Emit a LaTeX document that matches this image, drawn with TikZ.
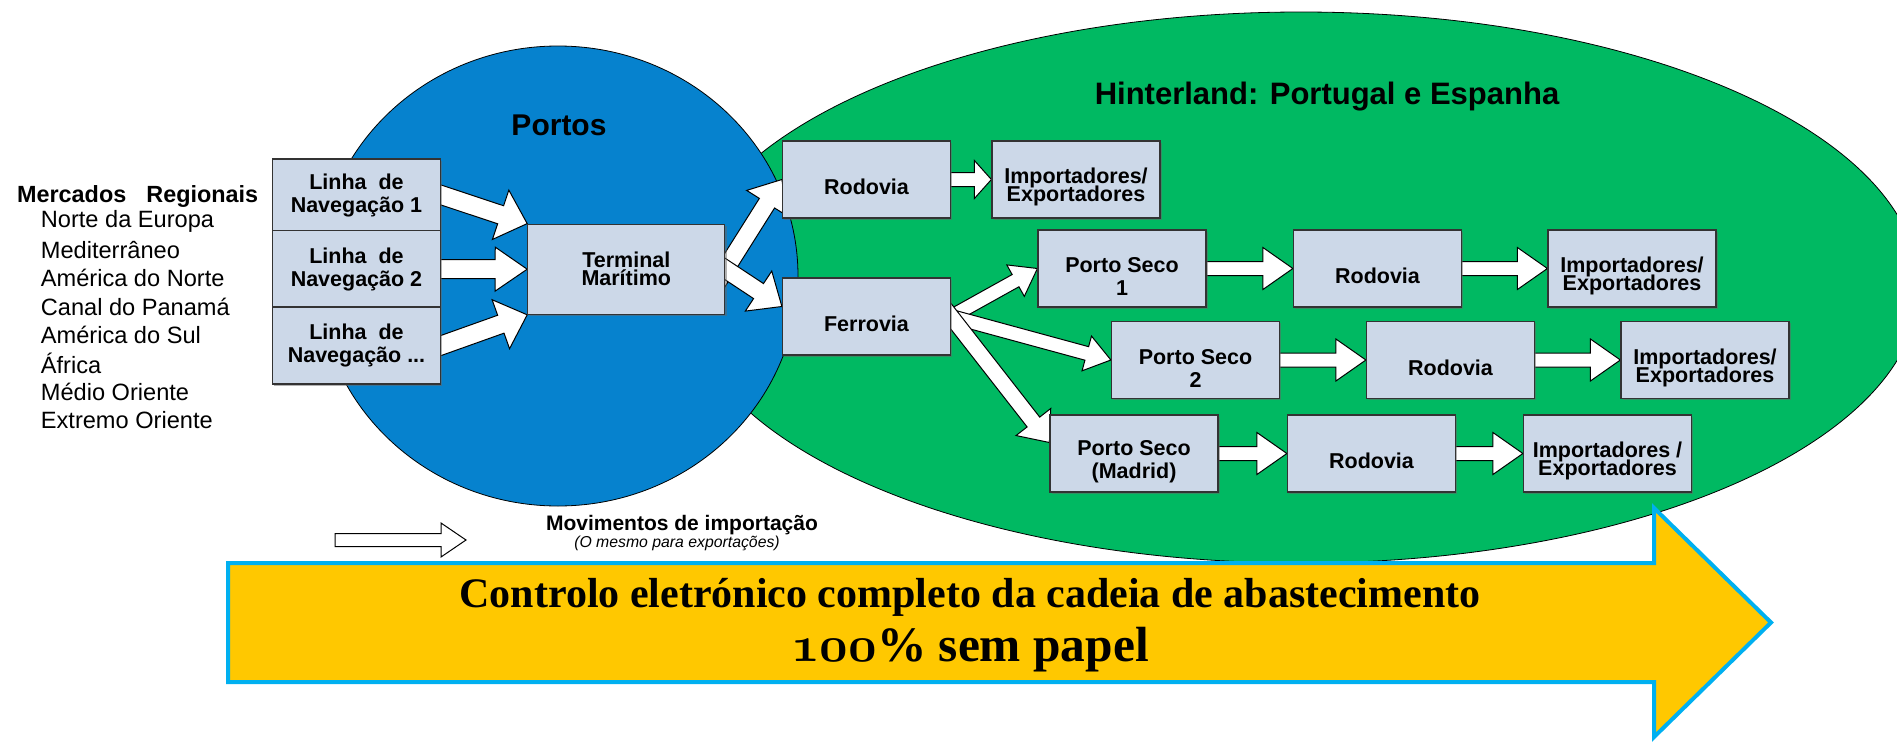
\documentclass[tikz,border=0pt]{standalone}
\usepackage{fontspec}
\setmainfont{Liberation Sans}
\newfontfamily\bannerfont{Liberation Serif}
\usetikzlibrary{calc,shadows}
\definecolor{portblue}{RGB}{6,130,206}
\definecolor{landgreen}{RGB}{0,185,98}
\definecolor{boxfill}{RGB}{204,216,232}
\definecolor{banneryellow}{RGB}{255,200,0}
\definecolor{bannerline}{RGB}{0,176,240}
\pgfdeclarelayer{bg}
\pgfdeclarelayer{mid}
\pgfsetlayers{bg,mid,main}
\newcommand{\sink}{\rule{0pt}{15.5pt}}
\newcommand{\tightfont}{\bfseries\fontsize{10.75}{9}\selectfont\lineskiplimit-6pt\relax}
\tikzset{
  fa shaft/.store in=\fashaft, fa head/.store in=\fahead,
  fa len/.store in=\falen, fa back/.store in=\faback,
  fa shaft=3.5pt, fa head=10.5pt, fa len=15pt, fa back=12pt,
  fatline/.style={draw=black, fill=white, line width=0.5pt, line join=miter},
  flowbox/.style={draw=black!80, fill=boxfill, line width=0.6pt,
    minimum width=84pt, minimum height=38.5pt, inner sep=1pt, align=center,
    font=\bfseries\fontsize{10.75}{11.5}\selectfont,
    drop shadow={shadow xshift=0.9pt, shadow yshift=-0.9pt, fill=black!60}},
  tight/.style={font=\tightfont},
  title/.style={font=\bfseries\fontsize{15}{18}\selectfont},
  market/.style={anchor=west, inner sep=0pt, font=\fontsize{11.8}{14}\selectfont},
  markhead/.style={anchor=west, inner sep=0pt, font=\bfseries\fontsize{11.7}{14}\selectfont}
}
\newcommand{\fatarrow}[3][]{%
  \begin{scope}[#1]
    \coordinate (fa-s) at ($(#2)!-\faback!(#3)$);
    \coordinate (fa-h) at ($(#3)!\falen!(#2)$);
    \draw[fatline] ($(fa-s)!\fashaft!90:(#3)$) -- ($(fa-h)!\fashaft!90:(#3)$)
      -- ($(fa-h)!\fahead!90:(#3)$) -- (#3)
      -- ($(fa-h)!\fahead!-90:(#3)$) -- ($(fa-h)!\fashaft!-90:(#3)$)
      -- ($(fa-s)!\fashaft!-90:(#3)$) -- cycle;
  \end{scope}}
\begin{document}
\begin{tikzpicture}[x=0.5pt, y=-0.5pt, line width=0.5pt]
  \useasboundingbox (0,0) rectangle (1897,744);
  \clip (0,0) rectangle (1897,744);
  \begin{pgfonlayer}{bg}
    \fill[white] (0,0) rectangle (1897,744);
    \draw[fill=landgreen] (1301,287.5) ellipse [x radius=618, y radius=275.5];
    \draw[fill=portblue] (558,276) ellipse [x radius=240, y radius=230];
    \draw[fill=banneryellow, draw=bannerline, line width=2pt]
      (228,563) -- (1654,563) -- (1654,508) -- (1771,622.5) -- (1654,737)
      -- (1654,682) -- (228,682) -- cycle;
  \end{pgfonlayer}

  \node[title] (portos) at (559,125) {Portos};
  \node[title, font=\bfseries\fontsize{15.5}{18}\selectfont] (hinter) at (1327,97)
    {Hinterland: Portugal e Espanha};

  \node[markhead] (merc) at (16.7,194.3) {Mercados};
  \node[markhead] (reg) at (146,196.7) {Regionais};
  \foreach \mk [count=\i] in {Norte da Europa, Mediterrâneo, América do Norte,
      Canal do Panamá, América do Sul, África, Médio Oriente, Extremo Oriente}
    \node[market] (mk\i) at (40.5,{221.5+28.4*(\i-1)}) {\mk};

  \node[flowbox, minimum height=36pt] (lin1) at (356.5,195) {Linha\ \ de\\Navegação 1};
  \node[flowbox] (lin2) at (356.5,269) {Linha\ \ de\\Navegação 2};
  \node[flowbox] (lin3) at (356.5,345.5) {Linha\ \ de\\Navegação ...};
  \node[flowbox, tight, minimum width=98.5pt, minimum height=45pt] (term) at (626.3,269.2)
    {Terminal\\Marítimo};

  \node[flowbox] (rod0) at (866.5,179.5) {\sink Rodovia};
  \node[flowbox, tight] (imp0) at (1076,179.5) {\sink Importadores/\\Exportadores};
  \node[flowbox] (ferr) at (866.5,316.5) {\sink Ferrovia};
  \node[flowbox] (ps1) at (1122,268.5) {\sink Porto Seco\\1};
  \node[flowbox] (rod1) at (1377.5,268.5) {\sink Rodovia};
  \node[flowbox, tight] (imp1) at (1632,268.5) {\sink Importadores/\\Exportadores};
  \node[flowbox] (ps2) at (1195.5,360) {\sink Porto Seco\\2};
  \node[flowbox] (rod2) at (1450.5,360) {\sink Rodovia};
  \node[flowbox, tight] (imp2) at (1705,360) {\sink Importadores/\\Exportadores};
  \node[flowbox] (psm) at (1134,453.5) {\sink Porto Seco\\(Madrid)};
  \node[flowbox] (rod3) at (1371.5,453.5) {\sink Rodovia};
  \node[flowbox, tight] (imp3) at (1607.5,453.5) {\sink Importadores /\\Exportadores};

  \coordinate (ferr-in) at ($(ferr.west)+(0,-10)$);
  \coordinate (psm-in) at ($(psm.west)+(0,-11)$);
  \coordinate (legA) at (335,540);
  \coordinate (legB) at (466,540);
  \begin{pgfonlayer}{mid}
    \fatarrow[fa shaft=4.75pt, fa head=13pt, fa len=14pt]{lin1.east}{term.north west}
    \fatarrow[fa shaft=4.75pt, fa head=11pt, fa len=16pt]{lin2.east}{term.west}
    \fatarrow[fa shaft=4.75pt, fa head=13pt, fa len=14pt]{lin3.east}{term.south west}
    \fatarrow[fa shaft=4.5pt, fa head=12pt, fa len=14pt]{term.east}{rod0.west}
    \fatarrow[fa shaft=4.5pt, fa head=12pt, fa len=14pt]{term.east}{ferr-in}
    \fatarrow[fa head=9.5pt, fa len=8.5pt]{rod0.east}{imp0.west}
    \fatarrow[fa head=9pt, fa len=12.5pt]{ferr.east}{ps1.west}
    \fatarrow[fa head=9pt, fa len=12.5pt]{ferr.east}{ps2.west}
    \fatarrow[fa shaft=4pt, fa head=11pt, fa len=13pt]{ferr.east}{psm-in}
    \foreach \a/\b in {ps1/rod1, rod1/imp1, ps2/rod2, rod2/imp2, psm/rod3, rod3/imp3}
      {\fatarrow{\a.east}{\b.west}}
    \fatarrow[fa back=0pt, fa shaft=3.25pt, fa head=8.5pt, fa len=12.5pt]{legA}{legB}
  \end{pgfonlayer}

  \node[font=\bfseries\fontsize{10.5}{12}\selectfont] (mov) at (682,525)
    {Movimentos de importação};
  \node[font=\itshape\fontsize{7.9}{9}\selectfont] (movx) at (677,543)
    {(O mesmo para exportações)};

  \node[font=\bannerfont\bfseries\fontsize{21}{24}\selectfont] (ctrl) at (970,597)
    {Controlo eletrónico completo da cadeia de abastecimento};
  \node[font=\bannerfont\bfseries\fontsize{24.7}{28}\selectfont] (paper) at (970,650)
    {{\usefont{OML}{cmm}{b}{it}100}\% sem papel};
\end{tikzpicture}
\end{document}
